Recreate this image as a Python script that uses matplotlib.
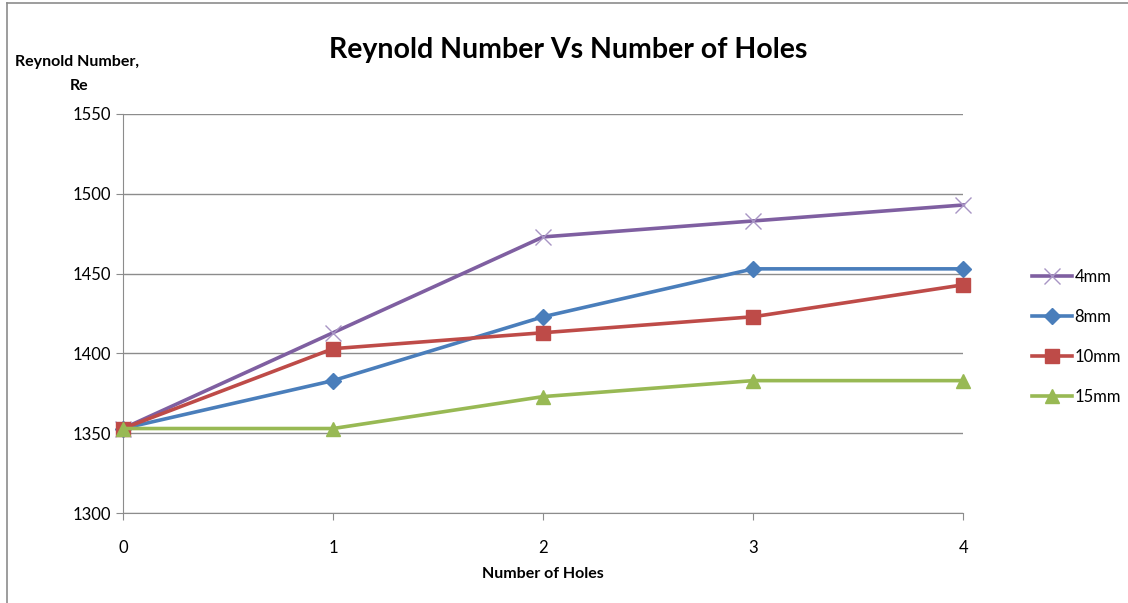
import matplotlib.pyplot as plt
from matplotlib.lines import Line2D

plt.rcParams['font.family'] = ['Lato', 'DejaVu Sans']

holes = [0, 1, 2, 3, 4]
re_4mm = [1353, 1413, 1473, 1483, 1493]
re_8mm = [1353, 1383, 1423, 1453, 1453]
re_10mm = [1353, 1403, 1413, 1423, 1443]
re_15mm = [1353, 1353, 1373, 1383, 1383]

fig = plt.figure(figsize=(11.28, 6.03), dpi=100)
ax = fig.add_axes([0.109, 0.149, 0.745, 0.662])

ax.plot(holes, re_4mm, color='#7F5FA1', lw=2.6, marker='x', ms=11, mew=1.0,
        mec='#A895C4', label='4mm', clip_on=False, zorder=3)
ax.plot(holes, re_8mm, color='#4A7EBB', lw=2.6, marker='D', ms=8,
        label='8mm', clip_on=False, zorder=3)
ax.plot(holes, re_10mm, color='#BE4B48', lw=2.6, marker='s', ms=10,
        label='10mm', clip_on=False, zorder=3)
ax.plot(holes, re_15mm, color='#98B954', lw=2.6, marker='^', ms=10,
        label='15mm', clip_on=False, zorder=3)

ax.set_xlim(0, 4)
ax.set_ylim(1300, 1550)
ax.set_xticks(holes)
ax.set_yticks(range(1300, 1551, 50))
ax.grid(axis='y', color='#8C8C8C', lw=1)
ax.set_axisbelow(True)
for s in ['top', 'right']:
    ax.spines[s].set_visible(False)
for s in ['left', 'bottom']:
    ax.spines[s].set_color('#8C8C8C')
ax.tick_params(colors='#8C8C8C', labelcolor='black', labelsize=12,
               length=5, direction='out')
ax.tick_params(axis='x', pad=14)

ax.set_title('Reynold Number Vs Number of Holes', fontsize=20.5,
             fontweight='bold', pad=40, x=0.53)
ax.set_xlabel('Number of Holes', fontsize=11.5, fontweight='bold', labelpad=8)
fig.text(0.068, 0.897, 'Reynold Number,', fontsize=11.5, fontweight='bold',
         ha='center', va='center')
fig.text(0.07, 0.857, 'Re', fontsize=11.5, fontweight='bold',
         ha='center', va='center')

ax.legend(loc='center left', bbox_to_anchor=(0.915, 0.441),
          bbox_transform=fig.transFigure, frameon=False, fontsize=12,
          handlelength=2.4, labelspacing=1.45, handletextpad=0.15,
          borderpad=0, borderaxespad=0)

# outer chart border
fig.add_artist(Line2D([0.0062, 0.0062], [0, 0.995], color='#8C8C8C', lw=1.2))
fig.add_artist(Line2D([0.0062, 1], [0.995, 0.995], color='#8C8C8C', lw=1.2))

fig.savefig('out.png', dpi=100)
